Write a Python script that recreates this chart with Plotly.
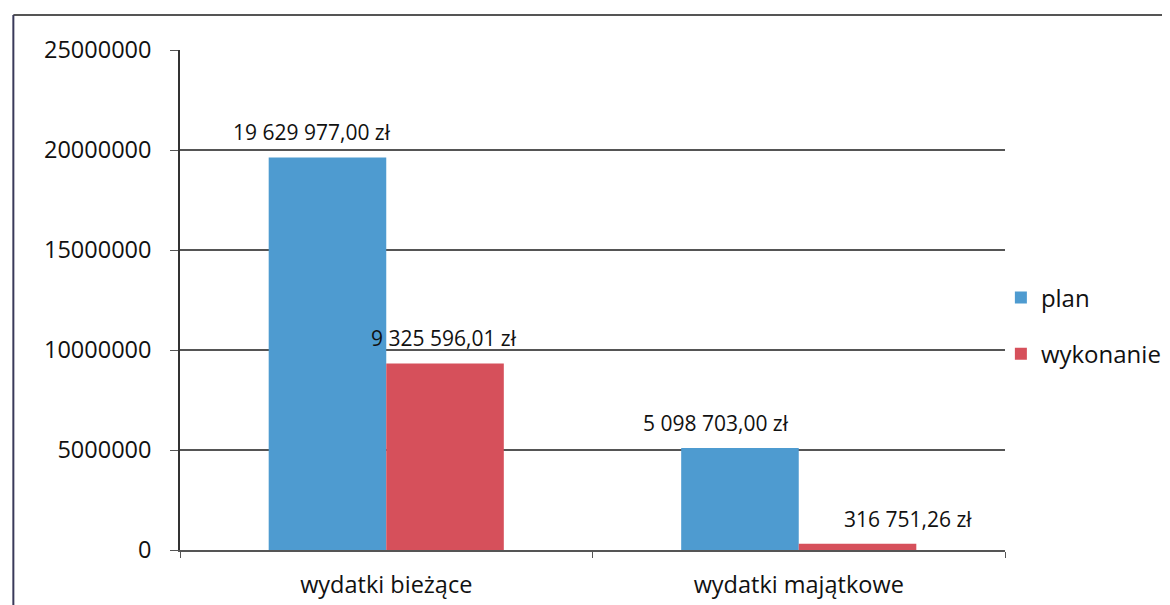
import plotly.graph_objects as go

categories = ["wydatki bieżące", "wydatki majątkowe"]
plan = [19629977.00, 5098703.00]
wykonanie = [9325596.01, 316751.26]
y_ticks = [0, 5000000, 10000000, 15000000, 20000000, 25000000]

BLUE = "#4E9BD0"
RED = "#D6505B"
FONT = "Open Sans"
TXT = "#111111"
FS_LBL = 21
FS_TICK = 23.5
FS_LEG = 24


def pl_money(v):
    s = f"{v:,.2f}"
    ip, dp = s.split(".")
    return ip.replace(",", " ") + "," + dp + " zł"


fig = go.Figure()
fig.add_trace(go.Bar(name="plan", x=categories, y=plan, marker_color=BLUE,
                     marker_line_width=0, legendgroup="a"))
fig.add_trace(go.Bar(name="wykonanie", x=categories, y=wykonanie, marker_color=RED,
                     marker_line_width=0, legendgroup="b"))

# data labels (manually offset like the original)
shifts_plan = [-74, -83]
shifts_wyk = [58, 109]
for i, c in enumerate(categories):
    fig.add_annotation(x=c, y=plan[i], text=pl_money(plan[i]), showarrow=False,
                       xshift=shifts_plan[i], yshift=25, yanchor="middle",
                       font=dict(family=FONT, size=FS_LBL, color=TXT))
    fig.add_annotation(x=c, y=wykonanie[i], text=pl_money(wykonanie[i]), showarrow=False,
                       xshift=shifts_wyk[i], yshift=25, yanchor="middle",
                       font=dict(family=FONT, size=FS_LBL, color=TXT))

# outer chart border (scan frame)
fig.add_shape(type="line", xref="paper", yref="paper", x0=-0.202, x1=1.3, y0=1.07, y1=1.07,
              line=dict(color="#555555", width=2))
fig.add_shape(type="line", xref="paper", yref="paper", x0=-0.202, x1=-0.202, y0=1.07, y1=-0.2,
              line=dict(color="#3a3a5a", width=2))

fig.update_layout(
    width=1170, height=605,
    margin=dict(l=172, r=171, t=42, b=63),
    paper_bgcolor="white", plot_bgcolor="white",
    barmode="group", bargap=0.43, bargroupgap=0,
    font=dict(family=FONT, size=FS_TICK, color=TXT),
    showlegend=True,
    legend=dict(x=0.995, y=0.448, xanchor="left", yanchor="middle",
                font=dict(family=FONT, size=FS_LEG, color=TXT),
                tracegroupgap=22, itemwidth=30, bgcolor="rgba(0,0,0,0)"),
)
fig.update_yaxes(range=[0, 25000000], tickvals=y_ticks, ticktext=[str(v) for v in y_ticks],
                 showgrid=True, gridcolor="#555555", gridwidth=1.6,
                 showline=True, linecolor="#333333", linewidth=1.6,
                 ticks="outside", ticklen=8, tickcolor="#555555",
                 ticklabelstandoff=14, zeroline=False,
                 tickfont=dict(family=FONT, size=FS_TICK, color=TXT))
fig.update_xaxes(showline=True, linecolor="#555555", linewidth=1.6,
                 ticks="outside", ticklen=6, tickcolor="#555555", tickson="boundaries",
                 ticklabelstandoff=13,
                 tickfont=dict(family=FONT, size=FS_TICK, color=TXT))

fig.write_html("out.html")
